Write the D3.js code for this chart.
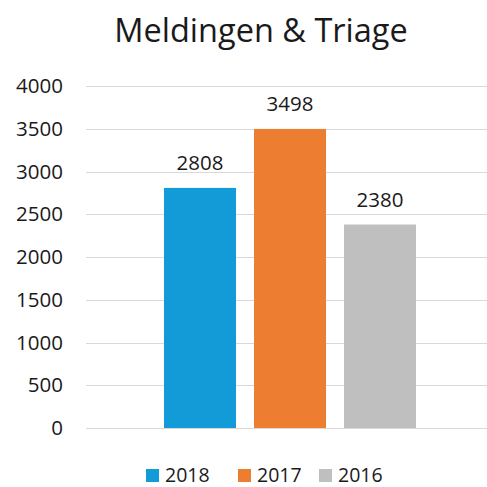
<!DOCTYPE html>
<html>
<head>
<meta charset="utf-8">
<script src="https://cdn.jsdelivr.net/npm/d3@7/dist/d3.min.js"></script>
<style>
  html, body { margin: 0; padding: 0; background: #fff; }
  svg { display: block; }
  text { font-family: "Open Sans", sans-serif; fill: #1a1a1a; }
</style>
</head>
<body>
<svg id="chart" width="487" height="487"></svg>
<script>
const title = "Meldingen & Triage";
const series = ["2018", "2017", "2016"];
const values = [2808, 3498, 2380];
const colors = ["#129BD7", "#ED7D31", "#BFBFBF"];
const yTicks = [0, 500, 1000, 1500, 2000, 2500, 3000, 3500, 4000];

const svg = d3.select("#chart");
const W = 487, H = 487;
const plot = { left: 86, right: 495, top: 86, bottom: 428 };

const y = d3.scaleLinear().domain([0, 4000]).range([plot.bottom, plot.top]);
const x = d3.scaleBand().domain(series).range([164, 416]).paddingInner(0.2).paddingOuter(0);

// title
svg.append("text")
  .attr("x", 261).attr("y", 42)
  .attr("text-anchor", "middle")
  .attr("font-size", 32.5)
  .text(title);

// gridlines
svg.append("g")
  .selectAll("line")
  .data(yTicks)
  .join("line")
  .attr("x1", plot.left).attr("x2", W)
  .attr("y1", d => Math.round(y(d)) + 0.5).attr("y2", d => Math.round(y(d)) + 0.5)
  .attr("stroke", "#d9d9d9").attr("stroke-width", 1.2);

// y axis labels
const yAxis = d3.axisLeft(y).tickValues(yTicks).tickSize(0).tickPadding(0).tickFormat(d3.format("d"));
const ga = svg.append("g").attr("transform", `translate(63,0)`).call(yAxis);
ga.select(".domain").remove();
ga.selectAll("text").attr("font-size", 20.5).attr("font-family", "'Open Sans', sans-serif").attr("fill", "#1a1a1a");

// bars
svg.append("g")
  .selectAll("rect")
  .data(series)
  .join("rect")
  .attr("x", d => x(d))
  .attr("width", x.bandwidth())
  .attr("y", (d, i) => y(values[i]))
  .attr("height", (d, i) => y(0) - y(values[i]))
  .attr("fill", (d, i) => colors[i]);

// data labels
svg.append("g")
  .selectAll("text")
  .data(series)
  .join("text")
  .attr("x", d => x(d) + x.bandwidth() / 2)
  .attr("y", (d, i) => y(values[i]) - 18)
  .attr("text-anchor", "middle")
  .attr("font-size", 20.5)
  .text((d, i) => values[i]);

// legend
const legendX = [146, 238, 319];
const lg = svg.append("g");
series.forEach((s, i) => {
  lg.append("rect")
    .attr("x", legendX[i]).attr("y", 469)
    .attr("width", 13).attr("height", 13)
    .attr("fill", colors[i]);
  lg.append("text")
    .attr("x", legendX[i] + 19).attr("y", 482)
    .attr("font-size", 19.5)
    .text(s);
});
</script>
</body>
</html>
